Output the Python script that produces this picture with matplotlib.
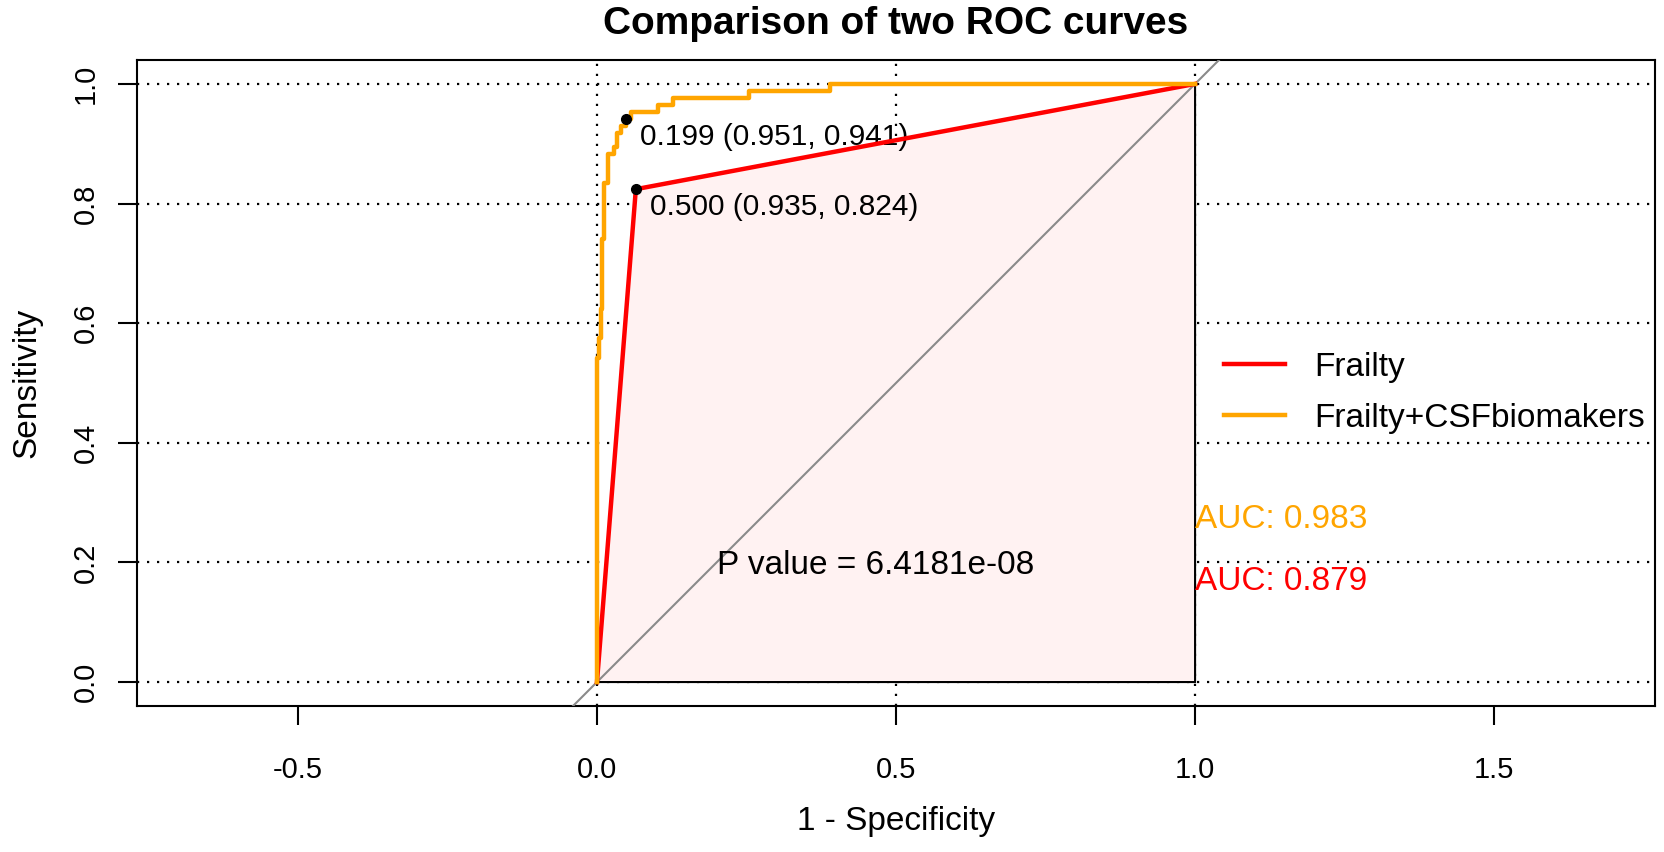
import matplotlib
matplotlib.use('Agg')
import matplotlib.pyplot as plt

plt.rcParams['font.family'] = ['Liberation Sans', 'DejaVu Sans']

# Frailty model ROC (1 - specificity, sensitivity)
frailty_fpr = [0.0, 0.065, 1.0]
frailty_tpr = [0.0, 0.824, 1.0]

# Frailty + CSF biomarkers ROC, step corners
combo_fpr = [0.0, 0.0, 0.004, 0.004, 0.006, 0.006, 0.009, 0.009, 0.012, 0.012,
             0.018, 0.018, 0.028, 0.028, 0.033, 0.033, 0.041, 0.041, 0.049, 0.049,
             0.057, 0.057, 0.102, 0.102, 0.127, 0.127, 0.254, 0.254, 0.390, 0.390, 1.0]
combo_tpr = [0.0, 0.541, 0.541, 0.576, 0.576, 0.624, 0.624, 0.741, 0.741, 0.835,
             0.835, 0.882, 0.882, 0.894, 0.894, 0.918, 0.918, 0.929, 0.929, 0.941,
             0.941, 0.953, 0.953, 0.965, 0.965, 0.976, 0.976, 0.988, 0.988, 1.0, 1.0]

# best thresholds: threshold, specificity, sensitivity
frailty_best = (0.500, 0.935, 0.824)
combo_best = (0.199, 0.951, 0.941)

auc_frailty = 0.879
auc_combo = 0.983
p_value = 6.4181e-08

labels = ['Frailty', 'Frailty+CSFbiomakers']
x_ticks = [-0.5, 0.0, 0.5, 1.0, 1.5]
y_ticks = [0.0, 0.2, 0.4, 0.6, 0.8, 1.0]

red = '#ff0000'
orange = '#ffa500'

fig = plt.figure(figsize=(16.65, 8.52), dpi=100)
ax = fig.add_axes([0.0823, 0.1714, 0.9117, 0.7582])
ax.set_xlim(-0.769, 1.769)
ax.set_ylim(-0.04, 1.04)

# dotted grid, under everything else
dots = (0, (1, 3.5))
for v in [0.0, 0.5, 1.0]:
    ax.axvline(v, color='black', lw=1.6, ls=dots, zorder=1)
for v in y_ticks:
    ax.axhline(v, color='black', lw=1.6, ls=dots, zorder=1)

# auc polygon under the frailty curve
poly_x = frailty_fpr + [frailty_fpr[-1], frailty_fpr[0]]
poly_y = frailty_tpr + [0.0, 0.0]
ax.fill(poly_x, poly_y, facecolor='#fff2f2', edgecolor='black', lw=1.5, zorder=2)

ax.axline((0, 0), slope=1, color='#8a8a8a', lw=1.5, zorder=3)

l1, = ax.plot(frailty_fpr, frailty_tpr, color=red, lw=3.2, zorder=4, label=labels[0])
l2, = ax.plot(combo_fpr, combo_tpr, color=orange, lw=3.2, zorder=4, label=labels[1])

for thr, spec, sens in [combo_best, frailty_best]:
    ax.plot(1 - spec, sens, 'o', color='black', ms=7, zorder=5)
    ax.annotate(f'{thr:.3f} ({spec:.3f}, {sens:.3f})', (1 - spec, sens),
                xytext=(10, -13), textcoords='offset points',
                ha='left', va='center', fontsize=21.5)

ax.text(1.0, 0.272, f'AUC: {auc_combo:.3f}', color=orange, fontsize=24,
        ha='left', va='center')
ax.text(1.0, 0.168, f'AUC: {auc_frailty:.3f}', color=red, fontsize=24,
        ha='left', va='center')
ax.text(0.466, 0.195, f'P value = {p_value:.4e}', fontsize=24,
        ha='center', va='center')

ax.legend(handles=[l1, l2], loc='center left', bbox_to_anchor=(1.048, 0.484),
          bbox_transform=ax.transData, frameon=False, fontsize=24,
          borderpad=0, borderaxespad=0, handlelength=1.85, handletextpad=0.87,
          labelspacing=0.6)

ax.set_xticks(x_ticks)
ax.set_xticklabels([f'{t:.1f}' for t in x_ticks])
ax.set_yticks(y_ticks)
ax.set_yticklabels([f'{t:.1f}' for t in y_ticks], rotation=90, va='center')
ax.tick_params(axis='both', length=14, width=1.5, labelsize=21, direction='out')
ax.tick_params(axis='x', pad=22)
ax.tick_params(axis='y', pad=13)
for s in ax.spines.values():
    s.set_linewidth(1.5)

ax.set_xlabel('1 - Specificity', fontsize=24)
ax.xaxis.set_label_coords(0.5, -0.155)
ax.set_ylabel('Sensitivity', fontsize=24)
ax.yaxis.set_label_coords(-0.062, 0.5)
ax.set_title('Comparison of two ROC curves', fontsize=28, fontweight='bold', pad=19)

fig.savefig('out.png', dpi=100)
